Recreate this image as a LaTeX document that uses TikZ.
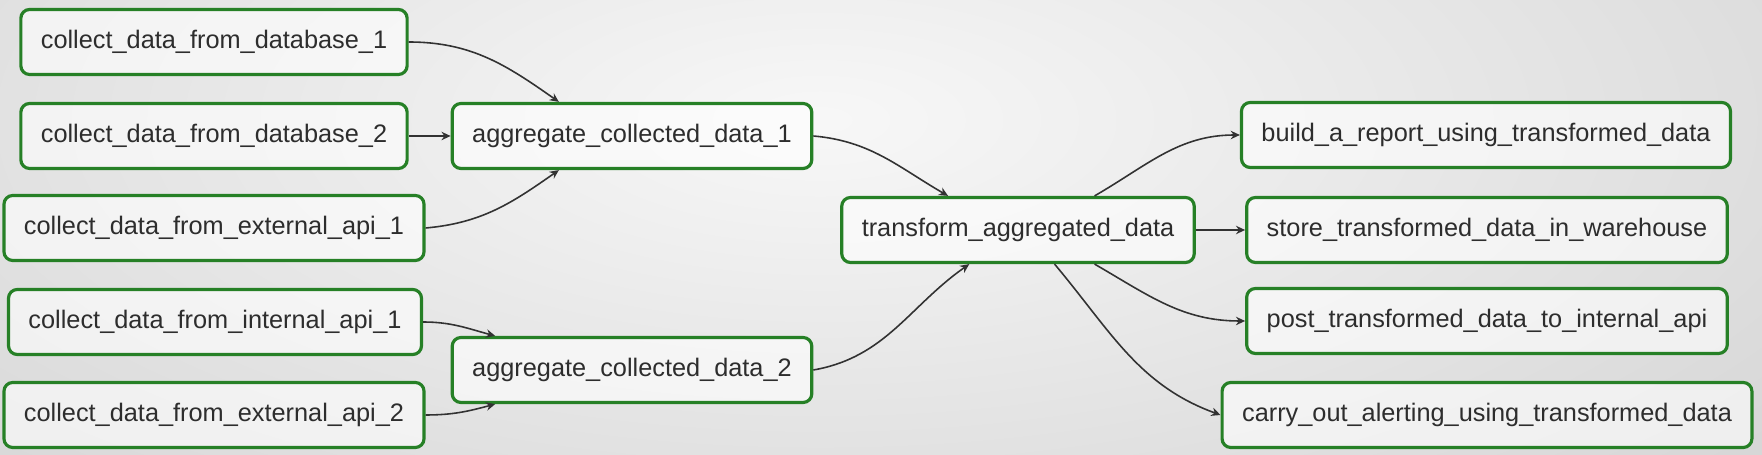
\documentclass[tikz,border=0pt]{standalone}
\usepackage{fontspec}
\setmainfont{Liberation Sans}
\usepackage{xcolor}
\usetikzlibrary{arrows.meta}
\definecolor{taskgreen}{RGB}{38,128,38}
\definecolor{tasktext}{RGB}{45,45,45}
\definecolor{depgray}{RGB}{50,50,50}

\begin{document}
\begin{tikzpicture}[
    x=0.01cm, y=0.01cm,
    task/.style={draw=taskgreen, line width=0.9pt, rounded corners=2.5pt, fill=white, fill opacity=0.6, text opacity=1, text=tasktext, minimum height=0.65cm, inner xsep=0.2cm, font=\fontsize{7.2}{8.6}\selectfont},
    dep/.style={draw=depgray, line width=0.45pt, -{Stealth[length=2.6pt,width=2.4pt]}}
]
\begin{scope}
\clip (0,0) rectangle (1762,-455);
\shade[inner color=gray!6, outer color=gray!32] (820,-120) ellipse (1250 and 520);
\end{scope}
\useasboundingbox (0,0) rectangle (1762,-455);

\node[task] (db1) at (214,-42) {collect\_data\_from\_database\_1};
\node[task] (db2) at (214,-136) {collect\_data\_from\_database\_2};
\node[task] (ext1) at (214,-228) {collect\_data\_from\_external\_api\_1};
\node[task] (int1) at (215,-322) {collect\_data\_from\_internal\_api\_1};
\node[task] (ext2) at (214,-415) {collect\_data\_from\_external\_api\_2};
\node[task] (agg1) at (632,-136) {aggregate\_collected\_data\_1};
\node[task] (agg2) at (632,-370) {aggregate\_collected\_data\_2};
\node[task] (trans) at (1018,-230) {transform\_aggregated\_data};
\node[task] (report) at (1486,-135) {build\_a\_report\_using\_transformed\_data};
\node[task] (store) at (1487,-230) {store\_transformed\_data\_in\_warehouse};
\node[task] (post) at (1487,-321) {post\_transformed\_data\_to\_internal\_api};
\node[task] (alert) at (1487,-415) {carry\_out\_alerting\_using\_transformed\_data};

\draw[dep] (db1.east) to[out=0,in=145] (agg1.155);
\draw[dep] (db2) -- (agg1);
\draw[dep] (ext1.east) to[out=5,in=215] (agg1.205);
\draw[dep] (int1.east) to[out=0,in=165] (agg2.166);
\draw[dep] (ext2.east) to[out=0,in=195] (agg2.194);
\draw[dep] (agg1.east) to[out=-5,in=150] (trans.154);
\draw[dep] (agg2.east) to[out=10,in=215] (trans.215);
\draw[dep] (trans.24) to[out=30,in=180] (report.west);
\draw[dep] (trans) -- (store);
\draw[dep] (trans.336) to[out=-30,in=180] (post.west);
\draw[dep] (trans.317) to[out=-50,in=160] (alert.west);
\end{tikzpicture}
\end{document}
